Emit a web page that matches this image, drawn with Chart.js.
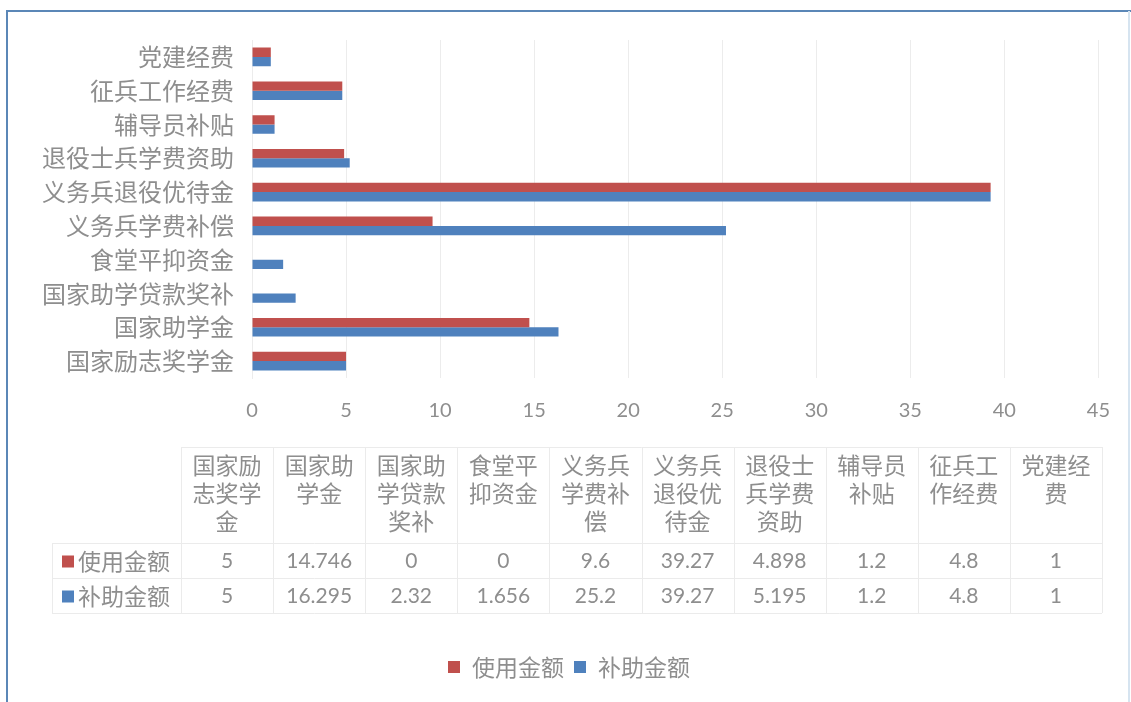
<!DOCTYPE html>
<html>
<head>
<meta charset="utf-8">
<script src="https://cdn.jsdelivr.net/npm/chart.js@4.4.0/dist/chart.umd.min.js"></script>
<style>
  html, body { margin: 0; padding: 0; background: #fff; }
  #wrap { width: 1131px; height: 702px; }
</style>
</head>
<body>
<div id="wrap"><canvas id="chart" width="1131" height="702"></canvas></div>
<script>
// chart data
const categories = ['国家励志奖学金', '国家助学金', '国家助学贷款奖补', '食堂平抑资金', '义务兵学费补偿',
  '义务兵退役优待金', '退役士兵学费资助', '辅导员补贴', '征兵工作经费', '党建经费'];
const seriesNames = ['使用金额', '补助金额'];
const usedAmounts = [5, 14.746, 0, 0, 9.6, 39.27, 4.898, 1.2, 4.8, 1];
const grantAmounts = [5, 16.295, 2.32, 1.656, 25.2, 39.27, 5.195, 1.2, 4.8, 1];
const xTickValues = [0, 5, 10, 15, 20, 25, 30, 35, 40, 45];

const colors = ['#c0504d', '#4f81bd'];
const textColor = '#8e8e8e';
const cjkFont = '"Noto Sans CJK SC", "Noto Sans", sans-serif';
const numFont = 'Lato, "Open Sans", sans-serif';

// frame + data table + legend, drawn on the same canvas
const tablePlugin = {
  id: 'dataTable',
  beforeDraw(chart) {
    const ctx = chart.ctx;
    ctx.save();
    ctx.strokeStyle = '#5b87b7';
    ctx.lineWidth = 2;
    ctx.beginPath();
    ctx.moveTo(7, 702);
    ctx.lineTo(7, 11);
    ctx.lineTo(1131, 11);
    ctx.stroke();
    ctx.strokeStyle = '#d6e4f0';
    ctx.beginPath();
    ctx.moveTo(1129, 11);
    ctx.lineTo(1129, 702);
    ctx.stroke();
    ctx.restore();
  },
  afterDraw(chart) {
    const ctx = chart.ctx;
    const rowHeadX = 52, left = 181, right = 1102;
    const colW = (right - left) / categories.length;
    const top = 447, headBottom = 543, rowH = 35;
    const series = [usedAmounts, grantAmounts];

    ctx.save();
    ctx.strokeStyle = '#ebebeb';
    ctx.lineWidth = 1;
    ctx.beginPath();
    ctx.moveTo(left, top + 0.5); ctx.lineTo(right, top + 0.5);
    for (let r = 0; r <= series.length; r++) {
      const y = Math.round(headBottom + r * rowH) + 0.5;
      ctx.moveTo(rowHeadX, y); ctx.lineTo(right, y);
    }
    const bottom = headBottom + series.length * rowH;
    ctx.moveTo(rowHeadX + 0.5, headBottom); ctx.lineTo(rowHeadX + 0.5, bottom);
    for (let c = 0; c <= categories.length; c++) {
      const x = Math.round(left + c * colW) + 0.5;
      ctx.moveTo(x, top); ctx.lineTo(x, bottom);
    }
    ctx.stroke();

    // header cells, 3 characters a line
    ctx.fillStyle = textColor;
    ctx.textAlign = 'center';
    ctx.textBaseline = 'middle';
    ctx.font = '23px ' + cjkFont;
    categories.forEach((name, c) => {
      const cx = left + (c + 0.5) * colW;
      for (let i = 0; i * 3 < name.length; i++) {
        ctx.fillText(name.slice(i * 3, i * 3 + 3), cx, 465 + i * 28);
      }
    });

    // value rows
    series.forEach((vals, r) => {
      const cy = headBottom + r * rowH + rowH / 2 + 1;
      ctx.fillStyle = colors[r];
      ctx.fillRect(62, cy - 6, 12, 12);
      ctx.fillStyle = textColor;
      ctx.textAlign = 'left';
      ctx.font = '23px ' + cjkFont;
      ctx.fillText(seriesNames[r], 78, cy);
      ctx.textAlign = 'center';
      ctx.font = '21px ' + numFont;
      vals.forEach((v, c) => {
        ctx.fillText(String(v), left + (c + 0.5) * colW, cy);
      });
    });

    // bottom legend
    ctx.font = '23px ' + cjkFont;
    const widths = seriesNames.map(n => ctx.measureText(n).width);
    const total = widths.reduce((a, w) => a + 12 + 12 + w, 0) + 10;
    let x = 569 - total / 2;
    const ly = 667;
    seriesNames.forEach((n, i) => {
      ctx.fillStyle = colors[i];
      ctx.fillRect(x, ly - 6, 12, 12);
      x += 24;
      ctx.fillStyle = textColor;
      ctx.textAlign = 'left';
      ctx.fillText(n, x, ly);
      x += widths[i] + 10;
    });
    ctx.restore();
  }
};

new Chart(document.getElementById('chart'), {
  type: 'bar',
  data: {
    labels: categories,
    datasets: [
      { label: seriesNames[0], data: usedAmounts, backgroundColor: colors[0] },
      { label: seriesNames[1], data: grantAmounts, backgroundColor: colors[1] }
    ]
  },
  options: {
    indexAxis: 'y',
    responsive: false,
    animation: false,
    events: [],
    categoryPercentage: 0.55,
    barPercentage: 1,
    layout: { padding: { left: 0, right: 26, top: 40, bottom: 274 } },
    plugins: { legend: { display: false }, tooltip: { enabled: false } },
    scales: {
      x: {
        min: 0,
        max: 45,
        afterBuildTicks: (axis) => { axis.ticks = xTickValues.map(v => ({ value: v })); },
        grid: { color: '#ececec', drawTicks: false },
        border: { display: false },
        ticks: { color: textColor, padding: 21, font: { family: numFont, size: 20 } },
        afterFit: (axis) => { axis.height = 50; }
      },
      y: {
        reverse: true,
        grid: { display: false },
        border: { display: true, color: '#ececec' },
        ticks: { color: textColor, padding: 10, font: { family: cjkFont, size: 24 } },
        afterFit: (axis) => { axis.width = 252; }
      }
    }
  },
  plugins: [tablePlugin]
});
</script>
</body>
</html>
